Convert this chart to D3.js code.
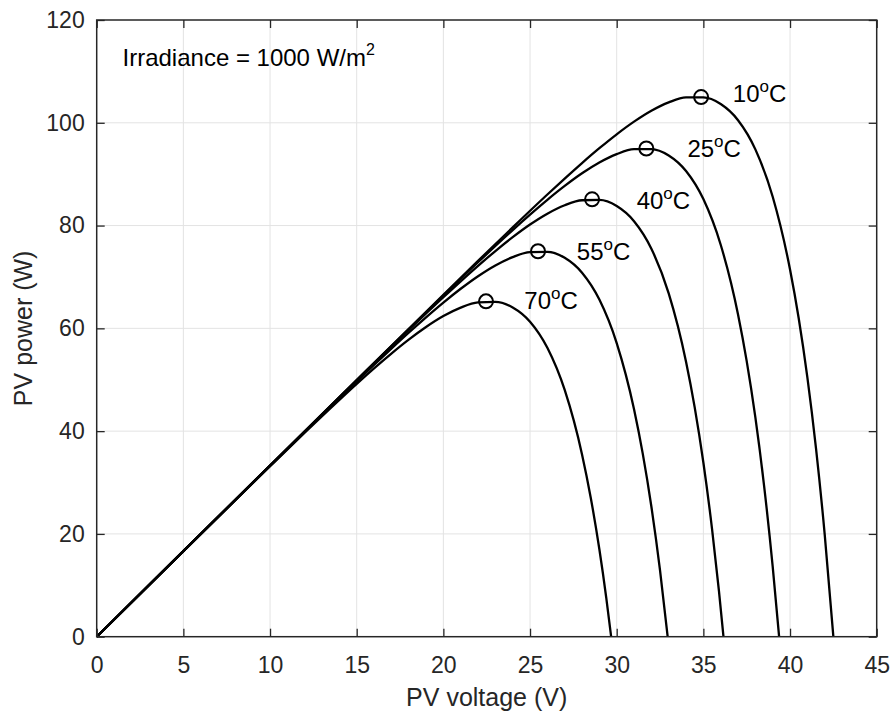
<!DOCTYPE html>
<html>
<head>
<meta charset="utf-8">
<script src="https://cdn.jsdelivr.net/npm/d3@7/dist/d3.min.js"></script>
<style>
  html, body { margin: 0; padding: 0; background: #fff; }
  svg { display: block; }
  text { font-family: "Liberation Sans", Arial, Helvetica, sans-serif; }
</style>
</head>
<body>
<svg id="chart" width="895" height="715"></svg>
<script>
// ---- Data ----
const temperatures = ["10", "25", "40", "55", "70"];

const voltage10 = [0, 5, 10, 15, 20, 22, 24, 26, 27, 28, 29, 30, 31, 32, 33, 34, 35, 36, 37, 38, 39, 40, 40.5, 41, 41.5, 42, 42.5];
const power10   = [0, 16.65, 33.3, 49.95, 66.53, 73.13, 79.65, 86.04, 89.14, 92.16, 95.05, 97.76, 100.22, 102.34, 103.97, 104.93, 104.93, 103.64, 100.5, 94.83, 85.6, 71.45, 61.96, 50.45, 36.58, 19.93, 0];

const voltage25 = [0, 5, 10, 15, 20, 22, 24, 25, 26, 27, 28, 29, 30, 31, 32, 33, 34, 35, 36, 37, 37.5, 38, 38.5, 39, 39.37];
const power25   = [0, 16.65, 33.3, 49.94, 66.4, 72.86, 79.13, 82.13, 85.01, 87.71, 90.17, 92.27, 93.9, 94.86, 94.89, 93.65, 90.63, 85.16, 76.27, 62.71, 53.63, 42.67, 29.46, 13.65, 0];

const voltage40 = [0, 5, 10, 15, 16, 18, 20, 21, 22, 23, 24, 25, 26, 27, 28, 29, 30, 31, 32, 33, 34, 34.5, 35, 35.5, 35.9, 36.16];
const power40   = [0, 16.65, 33.29, 49.85, 53.14, 59.66, 66.05, 69.15, 72.16, 75.04, 77.74, 80.2, 82.31, 83.95, 84.93, 84.99, 83.8, 80.85, 75.5, 66.8, 53.52, 44.63, 33.89, 20.99, 8.86, 0];

const voltage55 = [0, 5, 10, 12, 14, 16, 17, 18, 19, 20, 21, 22, 23, 24, 25, 26, 27, 28, 29, 30, 31, 31.5, 32, 32.5, 32.94];
const power55   = [0, 16.65, 33.26, 39.87, 46.42, 52.88, 56.04, 59.14, 62.14, 65.01, 67.7, 70.15, 72.25, 73.87, 74.83, 74.9, 73.73, 70.83, 65.6, 57.14, 44.26, 35.67, 25.33, 12.91, 0];

const voltage70 = [0, 5, 10, 12, 14, 15, 16, 17, 18, 19, 20, 21, 22, 23, 24, 25, 26, 27, 28, 28.5, 29, 29.4, 29.68];
const power70   = [0, 16.64, 33.18, 39.7, 46.08, 49.19, 52.2, 55.08, 57.79, 60.25, 62.38, 64.03, 65.05, 65.17, 64.07, 61.3, 56.22, 48.01, 35.47, 27.1, 17.01, 7.51, 0];

// Maximum power points (circle markers)
const mppVoltage = [34.87, 31.71, 28.58, 25.46, 22.46];
const mppPower   = [105.0, 95.0, 85.1, 75.0, 65.25];

// Label anchor positions in data units (left edge, baseline)
const labelVoltage = [36.7, 34.08, 31.15, 27.7, 24.67];
const labelPower   = [104.1, 93.25, 83.25, 73.3, 63.8];

const xTicks = [0, 5, 10, 15, 20, 25, 30, 35, 40, 45];
const yTicks = [0, 20, 40, 60, 80, 100, 120];

// ---- Layout ----
const svg = d3.select("#chart");
const mLeft = 96.7, mTop = 20, mRight = 876.7, mBottom = 636.7;
const x = d3.scaleLinear().domain([0, 45]).range([mLeft, mRight]);
const y = d3.scaleLinear().domain([0, 120]).range([mBottom, mTop]);

const axisColor = "#262626";
const fs = 23;
const annFs = 24;

// grid
const grid = svg.append("g");
grid.selectAll("line.gx").data(xTicks.slice(1, -1)).enter().append("line")
  .attr("x1", d => x(d)).attr("x2", d => x(d))
  .attr("y1", mTop).attr("y2", mBottom)
  .attr("stroke", "#e3e3e3").attr("stroke-width", 1);
grid.selectAll("line.gy").data(yTicks.slice(1, -1)).enter().append("line")
  .attr("x1", mLeft).attr("x2", mRight)
  .attr("y1", d => y(d)).attr("y2", d => y(d))
  .attr("stroke", "#e3e3e3").attr("stroke-width", 1);

// curves
const series = [
  [voltage10, power10], [voltage25, power25], [voltage40, power40],
  [voltage55, power55], [voltage70, power70]
];
const line = d3.line().x(d => x(d[0])).y(d => y(d[1])).curve(d3.curveMonotoneX);
svg.append("g").selectAll("path").data(series).enter().append("path")
  .attr("d", s => line(s[0].map((v, i) => [v, s[1][i]])))
  .attr("fill", "none").attr("stroke", "#000").attr("stroke-width", 2.3)
  .attr("stroke-linejoin", "round");

// markers
svg.append("g").selectAll("circle").data(mppVoltage).enter().append("circle")
  .attr("cx", d => x(d)).attr("cy", (d, i) => y(mppPower[i]))
  .attr("r", 7).attr("fill", "none").attr("stroke", "#000").attr("stroke-width", 2);

// axes
const xAxisB = d3.axisBottom(x).tickValues(xTicks).tickSizeInner(-8).tickSizeOuter(0).tickPadding(20);
const xAxisT = d3.axisTop(x).tickValues(xTicks).tickSizeInner(-8).tickSizeOuter(0).tickFormat("");
const yAxisL = d3.axisLeft(y).tickValues(yTicks).tickSizeInner(-8).tickSizeOuter(0).tickPadding(12);
const yAxisR = d3.axisRight(y).tickValues(yTicks).tickSizeInner(-8).tickSizeOuter(0).tickFormat("");

function styleAxis(g) {
  g.select(".domain").remove();
  g.selectAll(".tick line").attr("stroke", axisColor).attr("stroke-width", 1.3);
  g.selectAll(".tick text").attr("fill", axisColor).style("font-size", fs + "px")
    .style("font-family", '"Liberation Sans", Arial, sans-serif');
}
svg.append("g").attr("transform", `translate(0,${mBottom})`).call(xAxisB).call(styleAxis);
svg.append("g").attr("transform", `translate(0,${mTop})`).call(xAxisT).call(styleAxis);
svg.append("g").attr("transform", `translate(${mLeft},0)`).call(yAxisL).call(styleAxis);
svg.append("g").attr("transform", `translate(${mRight},0)`).call(yAxisR).call(styleAxis);

// box
svg.append("rect").attr("x", mLeft).attr("y", mTop)
  .attr("width", mRight - mLeft).attr("height", mBottom - mTop)
  .attr("fill", "none").attr("stroke", axisColor).attr("stroke-width", 1.5);

// axis titles
svg.append("text").attr("x", (mLeft + mRight) / 2).attr("y", 706)
  .attr("text-anchor", "middle").attr("fill", axisColor)
  .style("font-size", "25px").text("PV voltage (V)");
svg.append("text").attr("transform", `translate(32,${(mTop + mBottom) / 2}) rotate(-90)`)
  .attr("text-anchor", "middle").attr("fill", axisColor)
  .style("font-size", "25px").text("PV power (W)");

// irradiance annotation
const irr = svg.append("text").attr("x", 122.5).attr("y", 65.7)
  .attr("fill", "#000").style("font-size", annFs + "px");
irr.append("tspan").text("Irradiance = 1000 W/m");
irr.append("tspan").attr("dy", -11).style("font-size", "16px").text("2");

// temperature labels
temperatures.forEach((t, i) => {
  const tx = svg.append("text").attr("x", x(labelVoltage[i])).attr("y", y(labelPower[i]))
    .attr("fill", "#000").style("font-size", annFs + "px");
  tx.append("tspan").text(t);
  tx.append("tspan").attr("dy", -10).style("font-size", "17px").text("o");
  tx.append("tspan").attr("dy", 10).text("C");
});
</script>
</body>
</html>
